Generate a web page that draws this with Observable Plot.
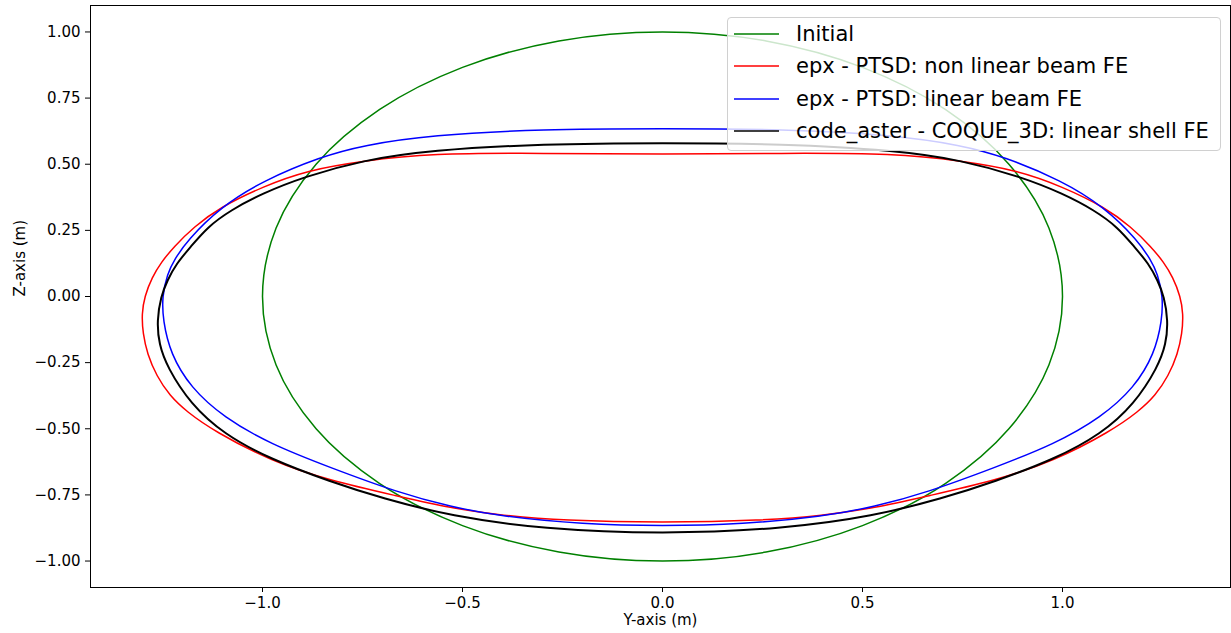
<!DOCTYPE html>
<html>
<head>
<meta charset="utf-8">
<script src="https://cdn.jsdelivr.net/npm/d3@7"></script>
<script src="https://cdn.jsdelivr.net/npm/@observablehq/plot@0.6"></script>
<style>
  html, body { margin: 0; padding: 0; background: #fff; }
  #wrap { position: relative; width: 1231px; height: 633px; font-family: "DejaVu Sans", sans-serif; }
  #legend { position: absolute; left: 727px; top: 17px; width: 494px; height: 134px;
    box-sizing: border-box; border: 1px solid #d0d0d0; border-radius: 4px;
    background: rgba(255,255,255,0.8); font-family: "DejaVu Sans", sans-serif; font-size: 21px; color: #000; }
  .lrow { position: absolute; left: 0; height: 30px; width: 100%; white-space: nowrap; }
  .lsvg { position: absolute; left: 5px; top: 0; }
  .ltext { position: absolute; left: 68px; line-height: 30px; top: 0; }
</style>
</head>
<body>
<div id="wrap"></div>
<script>
// ---- data (Y-axis in m, Z-axis in m) ----
const seriesNames = [
  "Initial",
  "epx - PTSD: non linear beam FE",
  "epx - PTSD: linear beam FE",
  "code_aster - COQUE_3D: linear shell FE"
];
const seriesColors = ["#008000", "#ff0000", "#0000ff", "#000000"];

const initialY = [0, -0.259, -0.5, -0.707, -0.866, -0.966, -1, -0.966, -0.866, -0.707, -0.5, -0.259,
                  0, 0.259, 0.5, 0.707, 0.866, 0.966, 1, 0.966, 0.866, 0.707, 0.5, 0.259];
const initialZ = [1, 0.966, 0.866, 0.707, 0.5, 0.259, 0, -0.259, -0.5, -0.707, -0.866, -0.966,
                  -1, -0.966, -0.866, -0.707, -0.5, -0.259, 0, 0.259, 0.5, 0.707, 0.866, 0.966];

const nonlinY = [0, -0.3, -0.58, -0.75, -0.888, -1.0, -1.105, -1.172, -1.222, -1.253, -1.276, -1.295, -1.302, -1.299, -1.288,
                 -1.265, -1.232, -1.19, -1.12, -0.98, -0.83, -0.663, -0.53, -0.4, -0.25,
                 0,
                 0.25, 0.4, 0.53, 0.663, 0.83, 0.98, 1.12, 1.19, 1.232, 1.265, 1.288, 1.299, 1.302, 1.295, 1.276,
                 1.253, 1.222, 1.172, 1.105, 1.0, 0.888, 0.75, 0.58, 0.3];
const nonlinZ = [0.537, 0.542, 0.541, 0.512, 0.477, 0.415, 0.338, 0.263, 0.187, 0.13, 0.073, 0.0, -0.066, -0.14, -0.217,
                 -0.30, -0.375, -0.435, -0.51, -0.621, -0.697, -0.754, -0.80, -0.828, -0.847,
                 -0.855,
                 -0.847, -0.828, -0.80, -0.754, -0.697, -0.621, -0.51, -0.435, -0.375, -0.30, -0.217, -0.14, -0.066, 0.0, 0.073,
                 0.13, 0.187, 0.263, 0.338, 0.415, 0.477, 0.512, 0.541, 0.542];

const linY = [0, -0.3, -0.58, -0.747, -0.855, -0.997, -1.105, -1.188, -1.22, -1.238, -1.251, -1.249, -1.23, -1.18, -1.097,
              -0.98, -0.83, -0.663, -0.53, -0.4, -0.2,
              0,
              0.2, 0.4, 0.53, 0.663, 0.83, 0.98, 1.097, 1.18, 1.23, 1.249, 1.251, 1.238, 1.22, 1.188, 1.105,
              0.997, 0.855, 0.747, 0.58, 0.3];
const linZ = [0.634, 0.633, 0.61, 0.572, 0.528, 0.439, 0.338, 0.212, 0.14, 0.086, 0.0, -0.09, -0.217, -0.344, -0.457,
              -0.558, -0.647, -0.74, -0.795, -0.832, -0.861,
              -0.868,
              -0.861, -0.832, -0.795, -0.74, -0.647, -0.558, -0.457, -0.344, -0.217, -0.09, 0.0, 0.086, 0.14, 0.212, 0.338,
              0.439, 0.528, 0.572, 0.61, 0.633];

const shellY = [0, -0.3, -0.58, -0.75, -0.897, -1.0, -1.08, -1.138, -1.18, -1.215, -1.238, -1.254, -1.264, -1.259, -1.238,
                -1.18, -1.097, -0.98, -0.83, -0.7, -0.53, -0.3,
                0,
                0.3, 0.53, 0.7, 0.83, 0.98, 1.097, 1.18, 1.238, 1.259, 1.264, 1.254, 1.238, 1.215, 1.18, 1.138,
                1.08, 1.0, 0.897, 0.75, 0.58, 0.3];
const shellZ = [0.581, 0.577, 0.553, 0.515, 0.452, 0.39, 0.326, 0.262, 0.187, 0.125, 0.061, 0.0, -0.091, -0.18, -0.268,
                -0.406, -0.52, -0.615, -0.70, -0.763, -0.83, -0.879,
                -0.898,
                -0.879, -0.83, -0.763, -0.70, -0.615, -0.52, -0.406, -0.268, -0.18, -0.091, 0.0, 0.061, 0.125, 0.187, 0.262,
                0.326, 0.39, 0.452, 0.515, 0.553, 0.577];

const xTicks = [-1.0, -0.5, 0.0, 0.5, 1.0];
const xTickLabels = ["\u22121.0", "\u22120.5", "0.0", "0.5", "1.0"];
const yTicks = [1.0, 0.75, 0.5, 0.25, 0.0, -0.25, -0.5, -0.75, -1.0];
const yTickLabels = ["1.00", "0.75", "0.50", "0.25", "0.00", "\u22120.25", "\u22120.50", "\u22120.75", "\u22121.00"];
const xLabel = "Y-axis (m)";
const yLabel = "Z-axis (m)";

// ---- build tables ----
const allY = [initialY, nonlinY, linY, shellY];
const allZ = [initialZ, nonlinZ, linZ, shellZ];
const widths = [1.5, 1.5, 1.5, 2];
const curves = ["catmull-rom-closed", "basis-closed", "basis-closed", "basis-closed"];
const tables = allY.map((ys, k) => ys.map((v, i) => ({py: v, pz: allZ[k][i], name: seriesNames[k]})));

const font = "DejaVu Sans, sans-serif";
const chart = Plot.plot({
  width: 1231,
  height: 633,
  marginLeft: 90,
  marginRight: 1,
  marginTop: 5,
  marginBottom: 46,
  style: {fontFamily: font, fontSize: "15px", background: "#fff", color: "#000"},
  x: {domain: [-1.43, 1.42]},
  y: {domain: [-1.1, 1.1]},
  marks: [
    ...tables.map((t, k) => Plot.line(t, {
      x: "py", y: "pz", stroke: seriesColors[k], strokeWidth: widths[k],
      curve: curves[k]
    })),
    Plot.frame({stroke: "#000", strokeWidth: 1}),
    Plot.axisX({ticks: xTicks, tickFormat: d => xTickLabels[xTicks.indexOf(d)], tickSize: 5, tickPadding: 5,
      fontSize: 15, label: null, stroke: "#000"}),
    Plot.axisY({ticks: yTicks, tickFormat: d => yTickLabels[yTicks.indexOf(d)], tickSize: 5, tickPadding: 5,
      fontSize: 15, label: null, stroke: "#000"}),
    Plot.text([xLabel], {text: d => d, frameAnchor: "bottom", lineAnchor: "top", dy: 27, fontSize: 15, fill: "#000"}),
    Plot.text([yLabel], {text: d => d, frameAnchor: "left", dx: -70, rotate: -90, fontSize: 15, fill: "#000"})
  ]
});

const wrap = document.getElementById("wrap");
wrap.appendChild(chart);

// ---- legend ----
const legend = document.createElement("div");
legend.id = "legend";
const svgNS = "http://www.w3.org/2000/svg";
seriesNames.forEach((name, k) => {
  const row = document.createElement("div");
  row.className = "lrow";
  row.style.top = (1 + k * 32.3) + "px";
  const s = document.createElementNS(svgNS, "svg");
  s.setAttribute("class", "lsvg");
  s.setAttribute("width", "48");
  s.setAttribute("height", "30");
  const ln = document.createElementNS(svgNS, "line");
  ln.setAttribute("x1", "1"); ln.setAttribute("x2", "46");
  ln.setAttribute("y1", "15"); ln.setAttribute("y2", "15");
  ln.setAttribute("stroke", seriesColors[k]);
  ln.setAttribute("stroke-width", "1.5");
  s.appendChild(ln);
  const txt = document.createElement("div");
  txt.className = "ltext";
  txt.textContent = name;
  row.appendChild(s);
  row.appendChild(txt);
  legend.appendChild(row);
});
wrap.appendChild(legend);
</script>
</body>
</html>
